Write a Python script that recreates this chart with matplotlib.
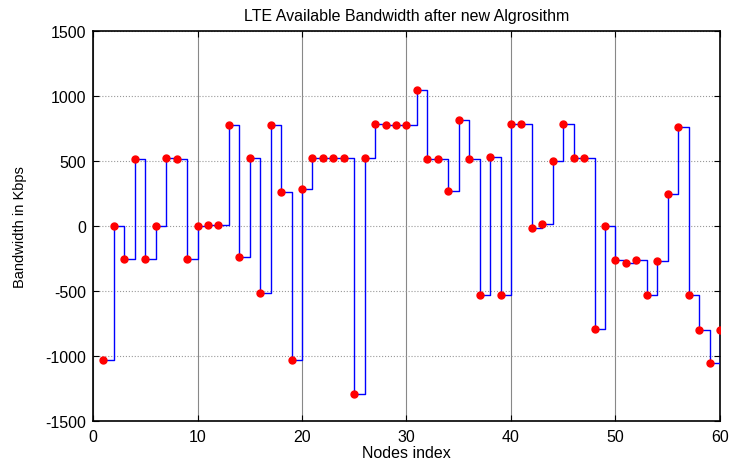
import matplotlib.pyplot as plt
import numpy as np

plt.rcParams['font.family'] = ['Liberation Sans', 'DejaVu Sans']
plt.rcParams['axes.unicode_minus'] = False

# Node indices and measured bandwidth (Kbps)
nodes = np.arange(1, 61)
bandwidth = [-1030, 0, -260, 515, -260, 0, 520, 515, -260, 0,
             5, 5, 775, -240, 520, -520, 775, 260, -1030, 280,
             520, 520, 520, 520, -1295, 520, 780, 775, 775, 775,
             1040, 515, 515, 268, 812, 515, -537, 530, -537, 785,
             785, -20, 15, 497, 785, 520, 520, -795, -5, -266,
             -285, -266, -530, -274, 241, 762, -537, -802, -1056, -802]

fig = plt.figure(figsize=(7.29, 4.64), dpi=100)
ax = fig.add_axes([0.1276, 0.0912, 0.86, 0.8405])

ax.step(nodes, bandwidth, where='post', color='blue', linewidth=1, zorder=3)
ax.plot(nodes, bandwidth, 'o', color='red', markersize=5, zorder=4)

ax.set_xlim(0, 60)
ax.set_ylim(-1500, 1500)
ax.set_xticks(np.arange(0, 61, 10))
ax.set_yticks(np.arange(-1500, 1501, 500))

ax.xaxis.grid(True, color='#888888', linestyle='-', linewidth=0.8)
ax.yaxis.grid(True, color='#999999', linestyle=':', linewidth=0.8)
ax.set_axisbelow(True)

ax.tick_params(direction='in', top=True, right=True, labelsize=11.5, length=4)
ax.tick_params(axis='x', pad=6)
ax.tick_params(axis='y', pad=5)
for s in ax.spines.values():
    s.set_linewidth(1.2)

ax.set_title('LTE Available Bandwidth after new Algrosithm', fontsize=11.5, pad=8)
ax.set_xlabel('Nodes index', fontsize=11.5)
ax.set_ylabel('Bandwidth in Kbps', fontsize=10.5)
ax.xaxis.set_label_coords(0.5, -0.063)
ax.yaxis.set_label_coords(-0.106, 0.5)

fig.savefig('out.png', dpi=100)
